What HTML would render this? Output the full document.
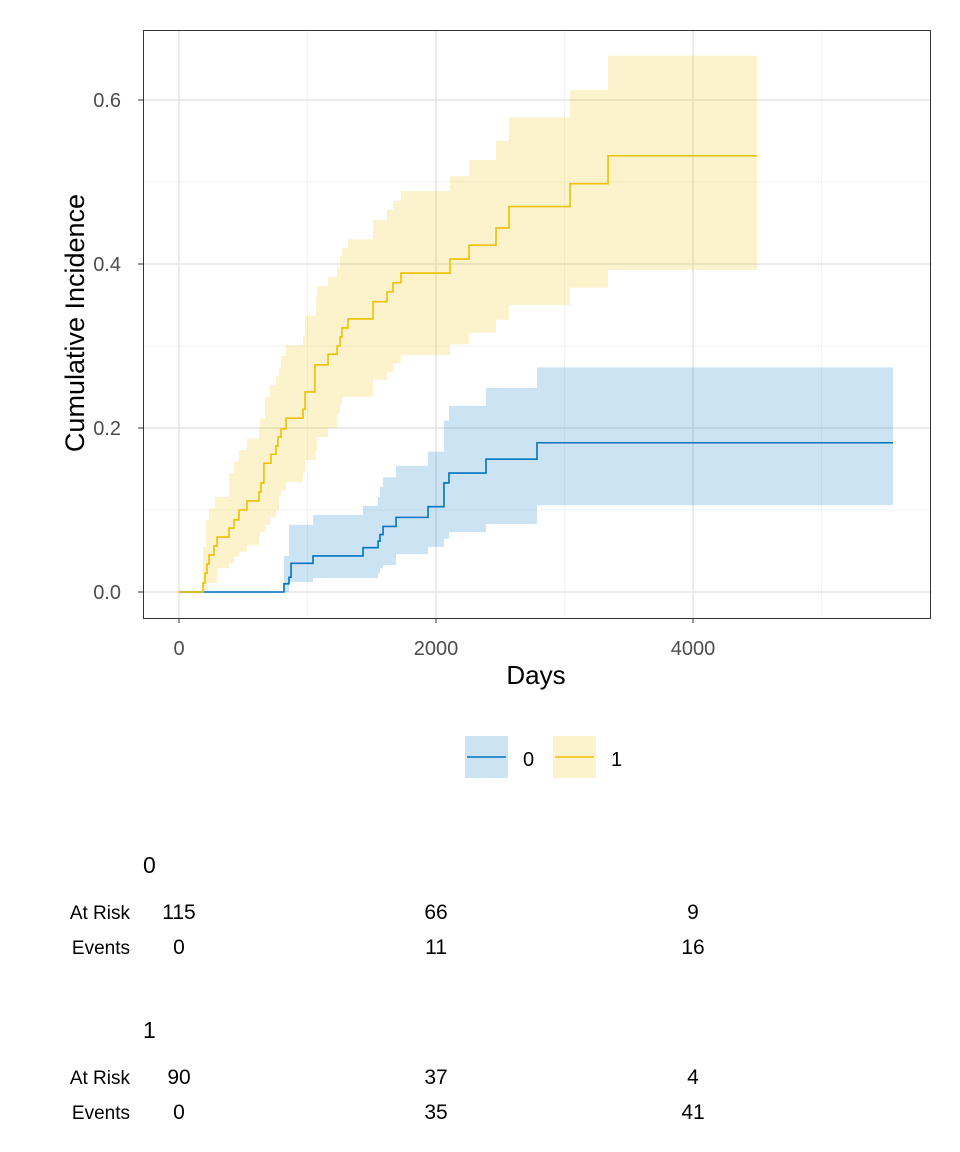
<!DOCTYPE html>
<html><head><meta charset="utf-8"><style>
body{margin:0;background:#fff;}
svg{display:block;font-family:"Liberation Sans",Arial,sans-serif;}
</style></head><body>
<svg id="chart" width="960" height="1152" viewBox="0 0 960 1152">
<rect x="0" y="0" width="960" height="1152" fill="#fff"/>
<g id="grid"></g>
<g id="bands"></g>
<g id="lines"></g>
<rect x="143.5" y="30.5" width="787" height="588" fill="none" stroke="#333" stroke-width="1"/>
<g id="axes"></g>
<text x="536" y="684" font-size="26" text-anchor="middle" fill="#000">Days</text>
<text transform="translate(84,323) rotate(-90)" font-size="27" text-anchor="middle" fill="#000">Cumulative Incidence</text>
<g>
<g>
<rect x="465" y="736" width="43" height="42" fill="rgba(0,115,194,0.2)"/>
<line x1="467" y1="757" x2="506" y2="757" stroke="#0073C2" stroke-width="1.5"/>
<text x="523" y="766" font-size="20" fill="#000">0</text>
</g>
<g>
<rect x="553" y="736" width="43" height="42" fill="rgba(239,192,0,0.2)"/>
<line x1="555" y1="757" x2="594" y2="757" stroke="#EFC000" stroke-width="1.5"/>
<text x="611" y="766" font-size="20" fill="#000">1</text>
</g>
</g>
<g id="table"></g>
</svg>
<script>
// ---- data ----
const xTicks = [0, 2000, 4000];
const yTicks = [0, 0.2, 0.4, 0.6];
const yTickLabels = ["0.0", "0.2", "0.4", "0.6"];
const xMinor = [1000, 3000, 5000];
const yMinor = [0.1, 0.3, 0.5];

const g0Times = [0, 817, 856, 872, 1043, 1432, 1549, 1564, 1588, 1689, 1938, 2062, 2101, 2389, 2786];
const g0Vals  = [0, 0.010, 0.018, 0.035, 0.044, 0.054, 0.062, 0.070, 0.080, 0.091, 0.104, 0.133, 0.145, 0.162, 0.182];
const g0End = 5556;
const g0BandTimes = [817, 856, 1043, 1432, 1549, 1564, 1588, 1689, 1938, 2062, 2101, 2389, 2786];
const g0BandLo = [0.0, 0.012, 0.017, 0.017, 0.023, 0.029, 0.033, 0.046, 0.055, 0.065, 0.073, 0.083, 0.106];
const g0BandHi = [0.044, 0.082, 0.094, 0.105, 0.116, 0.128, 0.140, 0.154, 0.171, 0.209, 0.227, 0.249, 0.274];

const g1Times = [0, 187, 202, 218, 233, 272, 296, 389, 428, 467, 529, 623, 638, 661, 716, 755, 770, 794, 833, 965, 981, 1058, 1160, 1230, 1253, 1268, 1315, 1510, 1619, 1665, 1727, 2109, 2257, 2467, 2568, 3043, 3339];
const g1Vals  = [0, 0.011, 0.023, 0.034, 0.045, 0.056, 0.067, 0.078, 0.088, 0.100, 0.111, 0.122, 0.133, 0.157, 0.168, 0.178, 0.189, 0.199, 0.212, 0.223, 0.244, 0.277, 0.290, 0.300, 0.311, 0.322, 0.333, 0.354, 0.366, 0.377, 0.389, 0.406, 0.423, 0.444, 0.470, 0.498, 0.532];
const g1End = 4498;
const g1BandTimes = [187, 210, 226, 233, 280, 296, 389, 428, 467, 529, 623, 630, 669, 708, 755, 778, 794, 833, 965, 981, 1066, 1074, 1160, 1230, 1253, 1268, 1315, 1510, 1619, 1665, 1727, 2109, 2257, 2467, 2568, 3043, 3339];
const g1BandLo = [0.002, 0.002, 0.011, 0.011, 0.011, 0.029, 0.035, 0.043, 0.049, 0.057, 0.066, 0.073, 0.082, 0.091, 0.100, 0.116, 0.124, 0.134, 0.145, 0.161, 0.173, 0.189, 0.200, 0.218, 0.228, 0.238, 0.238, 0.259, 0.268, 0.279, 0.289, 0.302, 0.316, 0.332, 0.350, 0.371, 0.393];
const g1BandHi = [0.055, 0.088, 0.088, 0.102, 0.116, 0.116, 0.145, 0.159, 0.173, 0.187, 0.201, 0.212, 0.238, 0.252, 0.263, 0.274, 0.288, 0.301, 0.313, 0.337, 0.360, 0.373, 0.384, 0.396, 0.409, 0.420, 0.430, 0.454, 0.466, 0.477, 0.489, 0.507, 0.527, 0.550, 0.579, 0.612, 0.654];

const tableTimes = [0, 2000, 4000];
const g0AtRisk = [115, 66, 9];
const g0Events = [0, 11, 16];
const g1AtRisk = [90, 37, 4];
const g1Events = [0, 35, 41];

// ---- scales ----
const X = d => 179 + d * 0.1285;
const Y = v => 592 - v * 820;
const NS = "http://www.w3.org/2000/svg";
function mk(tag, attrs, parent) {
  const e = document.createElementNS(NS, tag);
  for (const k in attrs) e.setAttribute(k, attrs[k]);
  parent.appendChild(e);
  return e;
}
const grid = document.getElementById('grid');
xMinor.forEach(t => { const l = mk('line', {x1: X(t), x2: X(t), y1: 31, y2: 618, stroke: '#f3f3f3', 'stroke-width': 1}, grid);
  
   });
yMinor.forEach(t => { const l = mk('line', {x1: 144, x2: 930, y1: Y(t), y2: Y(t), stroke: '#f3f3f3', 'stroke-width': 1}, grid);
  
   });
xTicks.forEach(t => { const l = mk('line', {x1: X(t), x2: X(t), y1: 31, y2: 618, stroke: '#e6e6e6', 'stroke-width': 1.6}, grid);
  
   });
yTicks.forEach(t => { const l = mk('line', {x1: 144, x2: 930, y1: Y(t), y2: Y(t), stroke: '#e6e6e6', 'stroke-width': 1.6}, grid);
  
   });

const axes = document.getElementById('axes');
xTicks.forEach(t => {
  const tk = mk('line', {x1: X(t), x2: X(t), y1: 618, y2: 623, stroke: '#333'}, axes);
  
  
  const tx = mk('text', {x: X(t), y: 655, 'font-size': 20, 'text-anchor': 'middle', fill: '#4d4d4d'}, axes);
  tx.textContent = t;
  
  
});
yTicks.forEach((t, i) => {
  const tk = mk('line', {x1: 138, x2: 143, y1: Y(t), y2: Y(t), stroke: '#333'}, axes);
  
  
  const tx = mk('text', {x: 121, y: Y(t) + 7, 'font-size': 20, 'text-anchor': 'end', fill: '#4d4d4d'}, axes);
  tx.textContent = yTickLabels[i];
  
  
});

function bandPath(times, lo, hi, end) {
  let up = '', dn = [];
  for (let i = 0; i < times.length; i++) {
    const x0 = X(times[i]), x1 = X(i + 1 < times.length ? times[i + 1] : end);
    up += (i === 0 ? 'M' : 'L') + x0 + ',' + Y(hi[i]) + 'L' + x1 + ',' + Y(hi[i]);
    dn.push('L' + x1 + ',' + Y(lo[i]) + 'L' + x0 + ',' + Y(lo[i]));
  }
  return up + dn.reverse().join('') + 'Z';
}
function stepPath(times, vals, end) {
  let d = '';
  for (let i = 0; i < times.length; i++) {
    const x0 = X(times[i]), x1 = X(i + 1 < times.length ? times[i + 1] : end);
    d += (i === 0 ? 'M' : 'L') + x0 + ',' + Y(vals[i]) + 'L' + x1 + ',' + Y(vals[i]);
  }
  return d;
}
const bands = document.getElementById('bands');
const b0 = mk('path', {d: bandPath(g0BandTimes, g0BandLo, g0BandHi, g0End), fill: 'rgba(0,115,194,0.2)'}, bands);


const b1 = mk('path', {d: bandPath(g1BandTimes, g1BandLo, g1BandHi, g1End), fill: 'rgba(239,192,0,0.2)'}, bands);


const lines = document.getElementById('lines');
const l0 = mk('path', {d: stepPath(g0Times, g0Vals, g0End), fill: 'none', stroke: '#0073C2', 'stroke-width': 1.6}, lines);


const l1 = mk('path', {d: stepPath(g1Times, g1Vals, g1End), fill: 'none', stroke: '#EFC000', 'stroke-width': 1.6}, lines);



const table = document.getElementById('table');
function group(label, gy, atRisk, events) {
  const h = mk('text', {x: 143, y: gy, 'font-size': 23, fill: '#000'}, table);
  h.textContent = label;
  
  
  [['At Risk', atRisk, gy + 46], ['Events', events, gy + 81]].forEach(([name, arr, ry]) => {
    const r = mk('text', {x: 130, y: ry, 'font-size': 19, 'text-anchor': 'end', fill: '#000'}, table);
    r.textContent = name;
    
    
    arr.forEach((v, i) => {
      const c = mk('text', {x: X(tableTimes[i]), y: ry, 'font-size': 21, 'text-anchor': 'middle', fill: '#000'}, table);
      c.textContent = v;
      
      
    });
  });
}
group('0', 873, g0AtRisk, g0Events);
group('1', 1038, g1AtRisk, g1Events);
</script>
</body></html>
